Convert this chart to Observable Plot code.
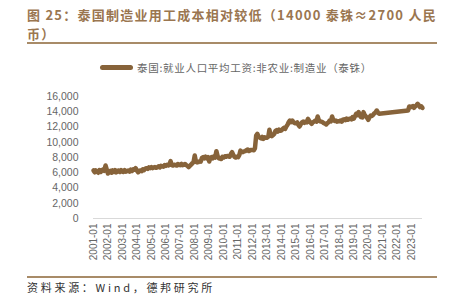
<!DOCTYPE html>
<html><head><meta charset="utf-8">
<script src="https://cdn.jsdelivr.net/npm/d3@7"></script>
<script src="https://cdn.jsdelivr.net/npm/@observablehq/plot@0.6"></script>
<style>
html,body{margin:0;padding:0;background:#fff;}
#wrap{position:relative;width:459px;height:294px;overflow:hidden;font-family:"Noto Sans CJK SC","Liberation Sans",sans-serif;}
.title{position:absolute;left:27px;color:#9A7650;font-weight:bold;font-size:13px;white-space:nowrap;line-height:15px;}
.rule{position:absolute;left:27px;width:410px;height:2px;background:#A88B68;}
#legend{position:absolute;top:59px;left:100px;height:16px;display:flex;align-items:center;}
#legend .sw{width:33px;height:5px;background:#87633A;border-radius:2.5px;margin-right:4px;}
#legend .lt{font-size:10.5px;color:#666;white-space:nowrap;}
#chart{position:absolute;left:0;top:80px;}
#source{position:absolute;left:27px;top:280px;font-size:11px;color:#333;white-space:nowrap;line-height:15px;}
</style></head>
<body><div id="wrap">
<div class="title" id="t1" style="top:6.5px">图 25：泰国制造业用工成本相对较低（14000 泰铢≈2700 人民</div>
<div class="title" id="t2" style="top:26px">币）</div>
<div class="rule" style="top:42px"></div>
<div id="legend"><div class="sw"></div><div class="lt" id="lt">泰国:就业人口平均工资:非农业:制造业（泰铢）</div></div>
<div id="chart"></div>
<div class="rule" style="top:276px"></div>
<div id="source">资料来源：Wind，德邦研究所</div>
</div>
<script>
// monthly values (baht)
const v2001 = [6300, 6050, 6300, 6150, 6000, 6350, 6100, 6300, 6450, 6250, 6950, 6450];
const v2002 = [5900, 6150, 6250, 6000, 6300, 6100, 6350, 6050, 6250, 6300, 6100, 6350];
const v2003 = [6150, 6100, 6350, 6150, 6200, 6300, 6150, 6400, 6250, 6450, 6400, 6600];
const v2004 = [6300, 6050, 6250, 6300, 6200, 6450, 6350, 6550, 6600, 6500, 6700, 6600];
const v2005 = [6750, 6600, 6700, 6750, 6650, 6700, 6850, 6700, 6900, 6850, 6800, 7000];
const v2006 = [6900, 7050, 6950, 7050, 7520, 7000, 6950, 7050, 7000, 6950, 7150, 7050];
const v2007 = [7000, 7150, 7000, 7050, 7150, 7000, 6900, 6750, 6900, 7050, 7250, 7350];
const v2008 = [8260, 7450, 7350, 7400, 7500, 7450, 7950, 8050, 7900, 8100, 7900, 8050];
const v2009 = [7480, 7950, 8050, 7900, 8150, 8000, 8830, 8200, 7900, 7850, 7800, 8100];
const v2010 = [8000, 8150, 8100, 8200, 8150, 8100, 8450, 8700, 8350, 8100, 8000, 8100];
const v2011 = [8050, 8350, 8900, 8750, 8700, 8800, 8850, 8950, 9050, 8850, 8950, 9000];
const v2012 = [9000, 8950, 9200, 10885, 11100, 10700, 10600, 10500, 10700, 10450, 10650, 10580];
const v2013 = [10600, 10750, 11630, 10950, 10800, 10950, 11100, 11500, 11600, 11400, 11650, 11500];
const v2014 = [11550, 11750, 11890, 11750, 12050, 12300, 12650, 12850, 12650, 12850, 12600, 12500];
const v2015 = [12500, 12600, 12300, 12065, 12350, 12600, 12700, 12550, 12700, 12600, 13070, 12800];
const v2016 = [12600, 12415, 12600, 12700, 12850, 12700, 13380, 12900, 12750, 12700, 12650, 12500];
const v2017 = [12450, 12330, 12500, 12600, 12850, 12750, 13380, 12900, 12800, 12850, 12700, 12750];
const v2018 = [12760, 12850, 12700, 12950, 13000, 12900, 13100, 12950, 13050, 13100, 13000, 13290];
const v2019 = [13100, 13450, 13730, 13550, 13950, 13500, 13300, 13250, 13950, 13600, 13400, 13200];
const v2020 = [12940, 13300, 13500, 13450, 13600, 13800, 13900, 14160, 13900, 13730]; // Jan–Oct
const v2022 = [14160, 14690, 14600]; // Oct–Dec
const v2023 = [14690, 14750, 14510, 14700, 14850, 15040, 14850, 14600, 14700, 14500]; // Jan–Oct

// [year, first month, values]
const yearRows = [
  [2001, 1, v2001], [2002, 1, v2002], [2003, 1, v2003], [2004, 1, v2004],
  [2005, 1, v2005], [2006, 1, v2006], [2007, 1, v2007], [2008, 1, v2008],
  [2009, 1, v2009], [2010, 1, v2010], [2011, 1, v2011], [2012, 1, v2012],
  [2013, 1, v2013], [2014, 1, v2014], [2015, 1, v2015], [2016, 1, v2016],
  [2017, 1, v2017], [2018, 1, v2018], [2019, 1, v2019], [2020, 1, v2020],
  [2022, 10, v2022], [2023, 1, v2023]
];

const tickLabels = ["2001-01","2002-01","2003-01","2004-01","2005-01","2006-01","2007-01","2008-01",
  "2009-01","2010-01","2011-01","2012-01","2013-01","2014-01","2015-01","2016-01","2017-01",
  "2018-01","2019-01","2020-01","2021-01","2022-01","2023-01"];
const yTicks = [0, 2000, 4000, 6000, 8000, 10000, 12000, 14000, 16000];

const parse = d3.utcParse("%Y-%m");
const data = [];
for (const [y, m0, vals] of yearRows) {
  vals.forEach((v, i) => data.push({date: new Date(Date.UTC(y, m0 - 1 + i, 1)), value: v}));
}

const chart = Plot.plot({
  width: 459,
  height: 190,
  marginTop: 16,
  marginBottom: 52,
  marginLeft: 93,
  marginRight: 37,
  style: {fontFamily: "'Liberation Sans','Noto Sans CJK SC',sans-serif", background: "transparent"},
  x: {type: "utc", domain: d3.extent(data, d => d.date)},
  y: {domain: [0, 16000]},
  marks: [
    Plot.ruleY([0], {stroke: "#d9d9d9", strokeWidth: 1}),
    Plot.axisY({ticks: yTicks, tickFormat: d3.format(","), tickSize: 0, tickPadding: 15,
      fontSize: 10.5, fill: "#666", label: null}),
    Plot.axisX({ticks: tickLabels.map(parse), tickFormat: d3.utcFormat("%Y-%m"), tickSize: 0,
      tickPadding: 5, tickRotate: -90, fontSize: 10, fill: "#666", label: null}),
    Plot.line(data, {x: "date", y: "value", stroke: "#87633A", strokeWidth: 4.5,
      strokeLinejoin: "round", strokeLinecap: "round"})
  ]
});
document.getElementById("chart").appendChild(chart);

// fit text widths
function fit(el, target) {
  const n = el.textContent.length;
  const w = el.getBoundingClientRect().width;
  el.style.letterSpacing = ((target - w) / n) + "px";
  return (target - w) / n;
}
const ls = fit(document.getElementById("t1"), 410);
document.getElementById("t2").style.letterSpacing = ls + "px";
fit(document.getElementById("lt"), 235);
fit(document.getElementById("source"), 188);
</script>
</body></html>
